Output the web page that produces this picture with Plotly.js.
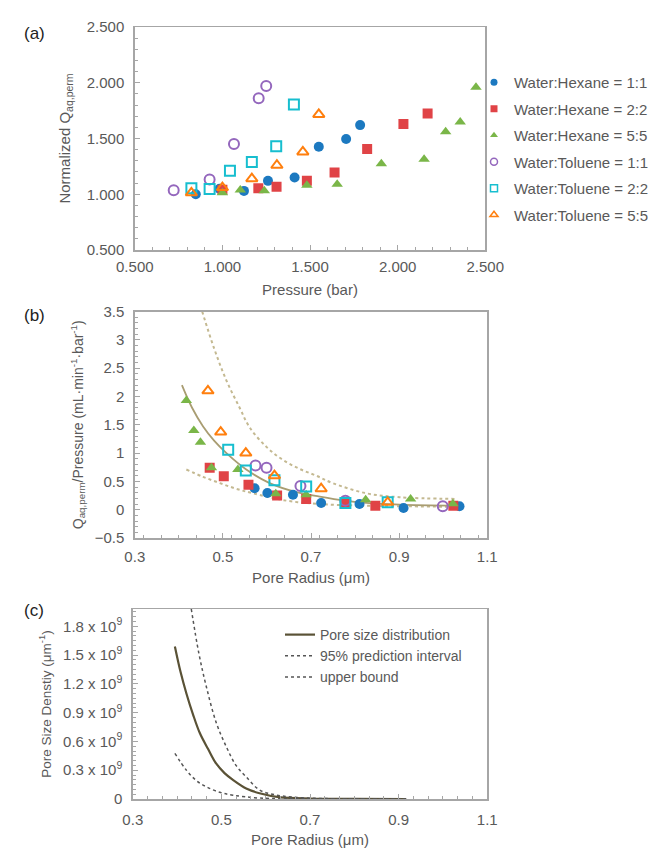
<!DOCTYPE html>
<html>
<head>
<meta charset="utf-8">
<script src="https://cdn.plot.ly/plotly-3.0.1.min.js"></script>
<style>html,body{margin:0;padding:0;background:#fff;}#chart{width:654px;height:848px;}</style>
</head>
<body>
<div id="chart"></div>
<script>
// ---------- Panel (a): Normalized Q vs Pressure ----------
const seriesNames = ["Water:Hexane = 1:1","Water:Hexane = 2:2","Water:Hexane = 5:5","Water:Toluene = 1:1","Water:Toluene = 2:2","Water:Toluene = 5:5"];
const a_hex11_x = [0.848, 0.984, 1.123, 1.260, 1.412, 1.550, 1.706, 1.786];
const a_hex11_y = [1.000, 1.050, 1.030, 1.120, 1.150, 1.426, 1.495, 1.620];
const a_hex22_x = [1.000, 1.205, 1.309, 1.482, 1.640, 1.826, 2.033, 2.171];
const a_hex22_y = [1.040, 1.053, 1.067, 1.120, 1.196, 1.405, 1.630, 1.725];
const a_hex55_x = [1.000, 1.102, 1.239, 1.482, 1.655, 1.907, 2.151, 2.274, 2.357, 2.447];
const a_hex55_y = [1.013, 1.037, 1.031, 1.080, 1.090, 1.273, 1.313, 1.560, 1.647, 1.960];
const a_tol11_x = [0.722, 0.927, 1.066, 1.207, 1.250];
const a_tol11_y = [1.035, 1.133, 1.450, 1.860, 1.970];
const a_tol22_x = [0.823, 0.927, 1.043, 1.168, 1.307, 1.408];
const a_tol22_y = [1.053, 1.047, 1.210, 1.290, 1.430, 1.805];
const a_tol55_x = [0.823, 1.000, 1.168, 1.311, 1.459, 1.550];
const a_tol55_y = [1.013, 1.060, 1.140, 1.260, 1.380, 1.716];

// ---------- Panel (b): Q/Pressure vs Pore radius ----------
const b_hex11_x = [0.572, 0.601, 0.659, 0.723, 0.810, 0.910, 1.037];
const b_hex11_y = [0.38, 0.295, 0.265, 0.118, 0.10, 0.03, 0.06];
const b_hex22_x = [0.470, 0.502, 0.558, 0.623, 0.689, 0.778, 0.846, 1.023];
const b_hex22_y = [0.74, 0.59, 0.44, 0.25, 0.19, 0.10, 0.07, 0.07];
const b_hex55_x = [0.417, 0.434, 0.449, 0.474, 0.534, 0.620, 0.689, 0.824, 0.926, 1.022];
const b_hex55_y = [1.93, 1.40, 1.19, 0.74, 0.71, 0.28, 0.265, 0.177, 0.19, 0.106];
const b_tol11_x = [0.574, 0.599, 0.676, 0.778, 0.999];
const b_tol11_y = [0.78, 0.74, 0.42, 0.16, 0.06];
const b_tol22_x = [0.512, 0.552, 0.617, 0.689, 0.778, 0.874];
const b_tol22_y = [1.06, 0.69, 0.52, 0.41, 0.118, 0.13];
const b_tol55_x = [0.466, 0.495, 0.552, 0.617, 0.723, 0.874];
const b_tol55_y = [2.10, 1.37, 1.00, 0.60, 0.37, 0.13];
// curves
const b_fit_x = [0.407, 0.430, 0.455, 0.480, 0.508, 0.553, 0.606, 0.667, 0.720, 0.775, 0.825, 0.901, 1.030];
const b_fit_y = [2.20, 1.80, 1.47, 1.22, 1.00, 0.71, 0.47, 0.31, 0.23, 0.16, 0.12, 0.09, 0.07];
const b_up_x = [0.453, 0.480, 0.508, 0.538, 0.561, 0.600, 0.636, 0.674, 0.712, 0.749, 0.825, 0.901, 1.029];
const b_up_y = [3.50, 2.85, 2.28, 1.80, 1.45, 1.10, 0.88, 0.72, 0.60, 0.47, 0.29, 0.22, 0.19];
const b_lo_x = [0.417, 0.455, 0.493, 0.530, 0.568, 0.644, 0.720, 0.825, 0.925, 1.030];
const b_lo_y = [0.71, 0.58, 0.47, 0.37, 0.29, 0.16, 0.10, 0.07, 0.06, 0.05];

// ---------- Panel (c): Pore size density ----------
const c_psd_x = [0.395, 0.408, 0.421, 0.436, 0.451, 0.470, 0.488, 0.507, 0.526, 0.556, 0.586, 0.630, 0.700, 0.800, 0.917];
const c_psd_y = [1.59e9, 1.32e9, 1.10e9, 0.88e9, 0.69e9, 0.52e9, 0.37e9, 0.27e9, 0.20e9, 0.11e9, 0.06e9, 0.02e9, 0.005e9, 0.001e9, 0];
const c_up_x = [0.432, 0.449, 0.466, 0.488, 0.511, 0.533, 0.556, 0.586, 0.620, 0.660, 0.720, 0.800, 0.917];
const c_up_y = [1.98e9, 1.52e9, 1.17e9, 0.80e9, 0.545e9, 0.35e9, 0.23e9, 0.094e9, 0.045e9, 0.02e9, 0.006e9, 0.002e9, 0];
const c_lo_x = [0.395, 0.421, 0.444, 0.466, 0.496, 0.526, 0.586, 0.700, 0.917];
const c_lo_y = [0.476e9, 0.30e9, 0.19e9, 0.128e9, 0.07e9, 0.04e9, 0.01e9, 0.002e9, 0];
const c_legend = ["Pore size distribution", "95% prediction interval", "upper bound"];
const c_tickvals = [0, 0.3e9, 0.6e9, 0.9e9, 1.2e9, 1.5e9, 1.8e9];
const c_ticktext = ["0", "0.3 x 10<sup>9</sup>", "0.6 x 10<sup>9</sup>", "0.9 x 10<sup>9</sup>", "1.2 x 10<sup>9</sup>", "1.5 x 10<sup>9</sup>", "1.8 x 10<sup>9</sup>"];

const colors = ["#1c79c0", "#e04346", "#7ab648", "#9467bd", "#17becf", "#ff7f0e"];
const symbols = ["circle", "square", "triangle-up", "circle-open", "square-open", "triangle-up-open"];

const aX = [a_hex11_x, a_hex22_x, a_hex55_x, a_tol11_x, a_tol22_x, a_tol55_x];
const aY = [a_hex11_y, a_hex22_y, a_hex55_y, a_tol11_y, a_tol22_y, a_tol55_y];
const bX = [b_hex11_x, b_hex22_x, b_hex55_x, b_tol11_x, b_tol22_x, b_tol55_x];
const bY = [b_hex11_y, b_hex22_y, b_hex55_y, b_tol11_y, b_tol22_y, b_tol55_y];

const traces = [];
for (let i = 0; i < 6; i++) {
  const open = i >= 3;
  traces.push({
    type: "scatter", mode: "markers", x: aX[i], y: aY[i], name: seriesNames[i],
    xaxis: "x", yaxis: "y", showlegend: false,
    marker: {symbol: symbols[i], size: 10, color: colors[i], line: {color: colors[i], width: open ? 2 : 0}}
  });
}
// legend entries for panel (a) (smaller legend symbols, no data)
for (let i = 0; i < 6; i++) {
  const open = i >= 3;
  traces.push({
    type: "scatter", mode: "markers", x: [null], y: [null], name: seriesNames[i],
    xaxis: "x", yaxis: "y", legend: "legend", legendgroup: "g" + i,
    marker: {symbol: symbols[i], size: 7, color: colors[i], line: {color: colors[i], width: open ? 1.5 : 0}}
  });
}
traces.push({type: "scatter", mode: "lines", x: b_up_x, y: b_up_y, xaxis: "x2", yaxis: "y2", showlegend: false,
  line: {color: "#c4b991", width: 2, dash: "dot", shape: "spline"}});
traces.push({type: "scatter", mode: "lines", x: b_lo_x, y: b_lo_y, xaxis: "x2", yaxis: "y2", showlegend: false,
  line: {color: "#c4b991", width: 2, dash: "dot", shape: "spline"}});
traces.push({type: "scatter", mode: "lines", x: b_fit_x, y: b_fit_y, xaxis: "x2", yaxis: "y2", showlegend: false,
  line: {color: "#a99d72", width: 1.8, shape: "spline"}});
for (let i = 0; i < 6; i++) {
  const open = i >= 3;
  traces.push({
    type: "scatter", mode: "markers", x: bX[i], y: bY[i], name: seriesNames[i],
    xaxis: "x2", yaxis: "y2", showlegend: false,
    marker: {symbol: symbols[i], size: 10, color: colors[i], line: {color: colors[i], width: open ? 2 : 0}}
  });
}
traces.push({type: "scatter", mode: "lines", x: c_psd_x, y: c_psd_y, name: c_legend[0], xaxis: "x3", yaxis: "y3",
  legend: "legend2", line: {color: "#5a5236", width: 2.2, shape: "spline"}});
traces.push({type: "scatter", mode: "lines", x: c_lo_x, y: c_lo_y, name: c_legend[1], xaxis: "x3", yaxis: "y3",
  legend: "legend2", line: {color: "#555555", width: 1.5, dash: "dot", shape: "spline"}});
traces.push({type: "scatter", mode: "lines", x: c_up_x, y: c_up_y, name: c_legend[2], xaxis: "x3", yaxis: "y3",
  legend: "legend2", line: {color: "#555555", width: 1.5, dash: "dot", shape: "spline"}});

const FONT = "Arial, 'Liberation Sans', sans-serif";
const gray = "#595959";
const W = 654, H = 848;
function axBase(extra) {
  return Object.assign({
    showline: true, linecolor: "#a6a6a6", linewidth: 1.5, mirror: true,
    ticks: "inside", ticklen: 5, tickcolor: "#a6a6a6", tickwidth: 1,
    showgrid: false, zeroline: false, automargin: false,
    tickfont: {family: FONT, size: 15, color: gray}
  }, extra);
}
const xd = (l, r) => [l / W, r / W];
const yd = (t, b) => [1 - b / H, 1 - t / H];

const layout = {
  width: W, height: H, margin: {l: 0, r: 0, t: 0, b: 0},
  paper_bgcolor: "#fff", plot_bgcolor: "#fff",
  font: {family: FONT, color: gray},
  xaxis: axBase({domain: xd(135, 486), anchor: "y", range: [0.5, 2.5], tick0: 0.5, dtick: 0.5, tickformat: ".3f",
    minor: {ticks: "inside", dtick: 0.1, ticklen: 3, tickcolor: "#a6a6a6"},
    ticklabelstandoff: 2,
    title: {text: "Pressure (bar)", font: {size: 15, color: gray}, standoff: 11}}),
  yaxis: axBase({domain: yd(27, 250), anchor: "x", range: [0.5, 2.5], tick0: 0.5, dtick: 0.5, tickformat: ".3f",
    minor: {ticks: "inside", dtick: 0.1, ticklen: 3, tickcolor: "#a6a6a6"},
    ticklabelstandoff: 6,
    title: {text: "Normalized Q<sub>aq,perm</sub>", font: {size: 15, color: gray}, standoff: 12}}),
  xaxis2: axBase({domain: xd(135, 488), anchor: "y2", range: [0.3, 1.1], tick0: 0.3, dtick: 0.2,
    minor: {ticks: "inside", dtick: 0.04, ticklen: 3, tickcolor: "#a6a6a6"},
    ticklabelstandoff: 4,
    title: {text: "Pore Radius (μm)", font: {size: 15, color: gray}, standoff: 9}}),
  yaxis2: axBase({domain: yd(311.5, 538), anchor: "x2", range: [-0.5, 3.5], tick0: -0.5, dtick: 0.5,
    minor: {ticks: "inside", dtick: 0.1, ticklen: 3, tickcolor: "#a6a6a6"},
    ticklabelstandoff: 6,
    title: {text: "Q<sub>aq,perm</sub>/Pressure (mL·min<sup>-1</sup>·bar<sup>-1</sup>)", font: {size: 14, color: gray}, standoff: 8}}),
  xaxis3: axBase({domain: xd(133, 488), anchor: "y3", range: [0.3, 1.1], tick0: 0.3, dtick: 0.2,
    minor: {ticks: "inside", dtick: 0.2 / 6, ticklen: 3, tickcolor: "#a6a6a6"},
    ticklabelstandoff: 6,
    title: {text: "Pore Radius (μm)", font: {size: 15, color: gray}, standoff: 10}}),
  yaxis3: axBase({domain: yd(609, 799), anchor: "x3", range: [0, 1.98e9], tickvals: c_tickvals, ticktext: c_ticktext,
    minor: {ticks: "inside", dtick: 0.05e9, ticklen: 3, tickcolor: "#a6a6a6"},
    ticklabelstandoff: 6,
    title: {text: "Pore Size Denstiy (μm<sup>-1</sup>)", font: {size: 13.5, color: gray}, standoff: 8}}),
  legend: {x: 475 / W, y: 1 - 66 / H, xanchor: "left", yanchor: "top", bgcolor: "rgba(0,0,0,0)",
    font: {family: FONT, size: 15, color: gray}, tracegroupgap: 4},
  legend2: {x: 280 / W, y: 1 - 619 / H, xanchor: "left", yanchor: "top", bgcolor: "rgba(0,0,0,0)",
    font: {family: FONT, size: 14, color: gray}, tracegroupgap: 0},
  annotations: [
    {text: "(a)", x: 22 / W, y: 1 - 22 / H, xref: "paper", yref: "paper", showarrow: false, font: {size: 17, color: "#222"}},
    {text: "(b)", x: 22 / W, y: 1 - 315 / H, xref: "paper", yref: "paper", showarrow: false, font: {size: 17, color: "#222"}},
    {text: "(c)", x: 22 / W, y: 1 - 622 / H, xref: "paper", yref: "paper", showarrow: false, font: {size: 17, color: "#222"}}
  ]
};
Plotly.newPlot("chart", traces, layout, {displayModeBar: false, staticPlot: true});
</script>
</body>
</html>
